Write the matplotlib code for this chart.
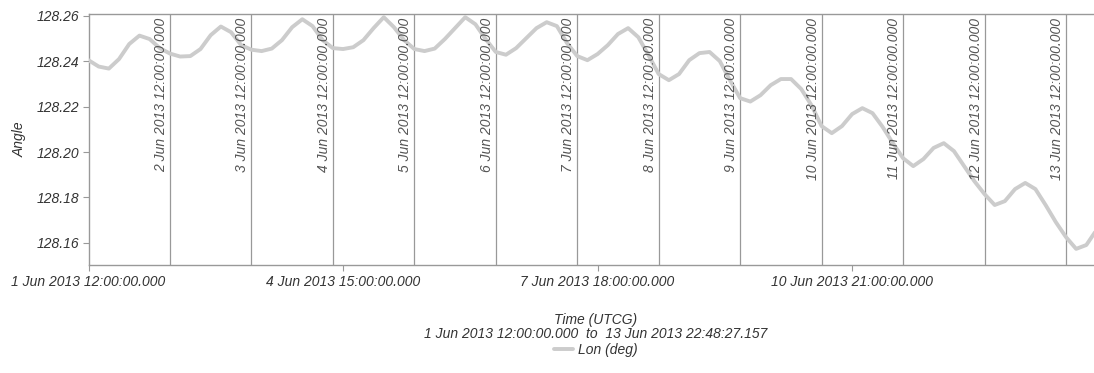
import matplotlib
matplotlib.use("Agg")
import matplotlib.pyplot as plt
import matplotlib.dates as mdates
import matplotlib.ticker as mticker
import pandas as pd

plt.rcParams['font.family'] = ['Liberation Sans', 'DejaVu Sans']
plt.rcParams['font.style'] = 'italic'
plt.rcParams['font.size'] = 10

# Longitude samples, every 3 hours from 1 Jun 2013 12:00 UTCG, plus the final epoch
start = pd.Timestamp("2013-06-01 12:00:00")
stop = pd.Timestamp("2013-06-13 22:48:27.157")
lon_deg = [
    128.2404, 128.2376, 128.2367, 128.2409, 128.2475, 128.2512, 128.2497, 128.2457,
    128.2433, 128.2420, 128.2422, 128.2453, 128.2514, 128.2552, 128.2527, 128.2470,
    128.2450, 128.2444, 128.2455, 128.2492, 128.2549, 128.2584, 128.2554, 128.2492,
    128.2457, 128.2453, 128.2461, 128.2492, 128.2545, 128.2593, 128.2549, 128.2492,
    128.2453, 128.2444, 128.2455, 128.2497, 128.2545, 128.2593, 128.2562, 128.2497,
    128.2440, 128.2428, 128.2457, 128.2501, 128.2545, 128.2571, 128.2554, 128.2479,
    128.2422, 128.2404, 128.2431, 128.2470, 128.2519, 128.2545, 128.2505, 128.2426,
    128.2343, 128.2316, 128.2343, 128.2404, 128.2435, 128.2440, 128.2400, 128.2316,
    128.2237, 128.2222, 128.2250, 128.2294, 128.2321, 128.2321, 128.2277, 128.2206,
    128.2114, 128.2083, 128.2114, 128.2167, 128.2193, 128.2171, 128.2110, 128.2039,
    128.1973, 128.1938, 128.1969, 128.2018, 128.2039, 128.2004, 128.1938, 128.1872,
    128.1815, 128.1767, 128.1784, 128.1837, 128.1864, 128.1837, 128.1767, 128.1692,
    128.1626, 128.1574, 128.1591, 128.1657,
    128.1692,
]
times = list(pd.date_range(start, periods=len(lon_deg) - 1, freq="3h")) + [stop]

day_marks = pd.date_range("2013-06-02 12:00", "2013-06-13 12:00", freq="D")
tick_times = pd.date_range(start, periods=4, freq="75h")
y_ticks = [128.16, 128.18, 128.20, 128.22, 128.24, 128.26]

grey = '#999999'
text_col = '#333333'

fig = plt.figure(figsize=(10.94, 3.73), dpi=100)
ax = fig.add_axes([0.0809, 0.2895, 0.9270, 0.6729])

ax.plot(times, lon_deg, color='#cccccc', lw=2.8, solid_capstyle='round',
        solid_joinstyle='round', label='Lon (deg)', zorder=3)

for d in day_marks:
    ax.axvline(d, color=grey, lw=0.9, zorder=2)
    ax.annotate(f"{d.day} Jun 2013 12:00:00.000", xy=(d, 1), xycoords=('data', 'axes fraction'),
                xytext=(-2, -4), textcoords='offset pixels', rotation=90,
                ha='right', va='top', color='#555555', fontsize=10, zorder=4)

ax.set_xlim(start, stop)
ax.set_ylim(128.1503, 128.2607)
ax.set_yticks(y_ticks)
ax.yaxis.set_major_formatter(mticker.FormatStrFormatter('%.2f'))
ax.set_xticks([mdates.date2num(t) for t in tick_times])
ax.set_xticklabels([f"{t.day} {t:%b %Y %H:%M:%S}.000" for t in tick_times])

for s in ax.spines.values():
    s.set_color(grey)
    s.set_linewidth(1)
ax.tick_params(axis='both', colors=grey, labelcolor=text_col, length=4, width=0.8,
               labelsize=10, pad=3)

ax.set_ylabel('Angle', color=text_col, fontsize=10, labelpad=7)

cx = 0.0809 + 0.9270 / 2
fig.text(cx, 0.160, "Time (UTCG)\n1 Jun 2013 12:00:00.000  to  13 Jun 2013 22:48:27.157",
         ha='center', va='top', color=text_col, fontsize=10, linespacing=0.95)
fig.legend(loc='center', bbox_to_anchor=(cx, 0.062), frameon=False, handlelength=1.4,
           handletextpad=0.3, fontsize=10, labelcolor=text_col)

fig.savefig('out.png', dpi=100)
